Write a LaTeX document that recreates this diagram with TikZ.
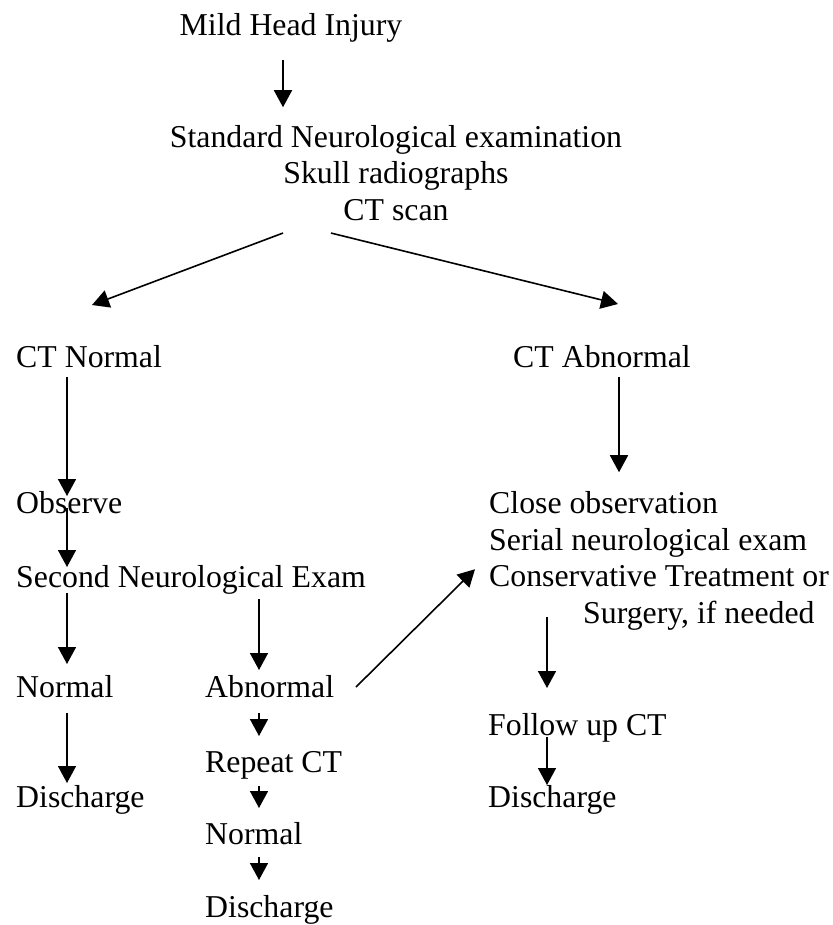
\documentclass[tikz,border=0pt]{standalone}
\usepackage{fontspec}
\setmainfont{Liberation Serif}
\usetikzlibrary{arrows.meta, calc}
\tikzset{
  lbl/.style={inner sep=0pt, anchor=base west},
  blocktxt/.style={inner sep=0pt, align=center},
  arr/.style={-{Triangle[width=18pt,length=17pt]}, line width=1.6pt}
}

\begin{document}
\begin{tikzpicture}[x=1pt, y=-1pt, font=\fontsize{31.8}{36.8}\selectfont]
  \useasboundingbox (0,0) rectangle (832,925);

  % top of the chart
  \node[lbl, anchor=base] (mhi) at (291,36) {Mild Head Injury};
  \node[blocktxt, anchor=north] (exam) at (396,121.24) {\strut Standard Neurological examination\\\strut Skull radiographs\\\strut CT scan};

  % left branch
  \node[lbl] (ctn) at (16,367) {CT Normal};
  \node[lbl] (obs) at (16,513) {Observe};
  \node[lbl] (sne) at (16,587) {Second Neurological Exam};
  \node[lbl] (nrm1) at (16,697) {Normal};
  \node[lbl] (dis1) at (16,807) {Discharge};
  \node[lbl] (abn) at (205,697) {Abnormal};
  \node[lbl] (rep) at (205,772) {Repeat CT};
  \node[lbl] (nrm2) at (205,844) {Normal};
  \node[lbl] (dis2) at (205,917) {Discharge};

  % right branch
  \node[lbl] (cta) at (513,367) {CT Abnormal};
  \node[blocktxt, align=left, anchor=north west] (close) at (489,487.24) {\strut Close observation\\\strut Serial neurological exam\\\strut Conservative Treatment or\\\strut\hspace{94pt}Surgery, if needed};
  \node[lbl] (fup) at (488,735) {Follow up CT};
  \node[lbl] (dis3) at (488,807) {Discharge};

  \draw[arr] ([shift={(-8,24)}]mhi.base) -- ([shift={(-113,-14)}]exam.north);
  \draw[arr] ([shift={(-113,1)}]exam.south) -- ([shift={(76,-62)}]ctn.base west);
  \draw[arr] ([shift={(-65,1)}]exam.south) -- ([shift={(105,-63)}]cta.base west);

  \draw[arr] ([shift={(51,10)}]ctn.base west) -- ([shift={(51,-17)}]obs.base west);
  \draw[arr] ([shift={(51,-5)}]obs.base west) -- ([shift={(51,-20)}]sne.base west);
  \draw[arr] ([shift={(51,6)}]sne.base west) -- ([shift={(51,-33)}]nrm1.base west);
  \draw[arr] ([shift={(243,12)}]sne.base west) -- ([shift={(54,-27)}]abn.base west);
  \draw[arr] ([shift={(51,16)}]nrm1.base west) -- ([shift={(51,-24)}]dis1.base west);
  \draw[arr] ([shift={(54,16)}]abn.base west) -- ([shift={(54,-36)}]rep.base west);
  \draw[arr] ([shift={(54,14)}]rep.base west) -- ([shift={(54,-36)}]nrm2.base west);
  \draw[arr] ([shift={(54,13)}]nrm2.base west) -- ([shift={(54,-37)}]dis2.base west);
  \draw[arr] ([shift={(151,-10)}]abn.base west) -- ([shift={(-14,82)}]close.north west);

  \draw[arr] ([shift={(106,10)}]cta.base west) -- ([shift={(130,-15)}]close.north west);
  \draw[arr] ([shift={(58,130)}]close.north west) -- ([shift={(59,-47)}]fup.base west);
  \draw[arr] ([shift={(59,2)}]fup.base west) -- ([shift={(59,-22)}]dis3.base west);
\end{tikzpicture}
\end{document}
